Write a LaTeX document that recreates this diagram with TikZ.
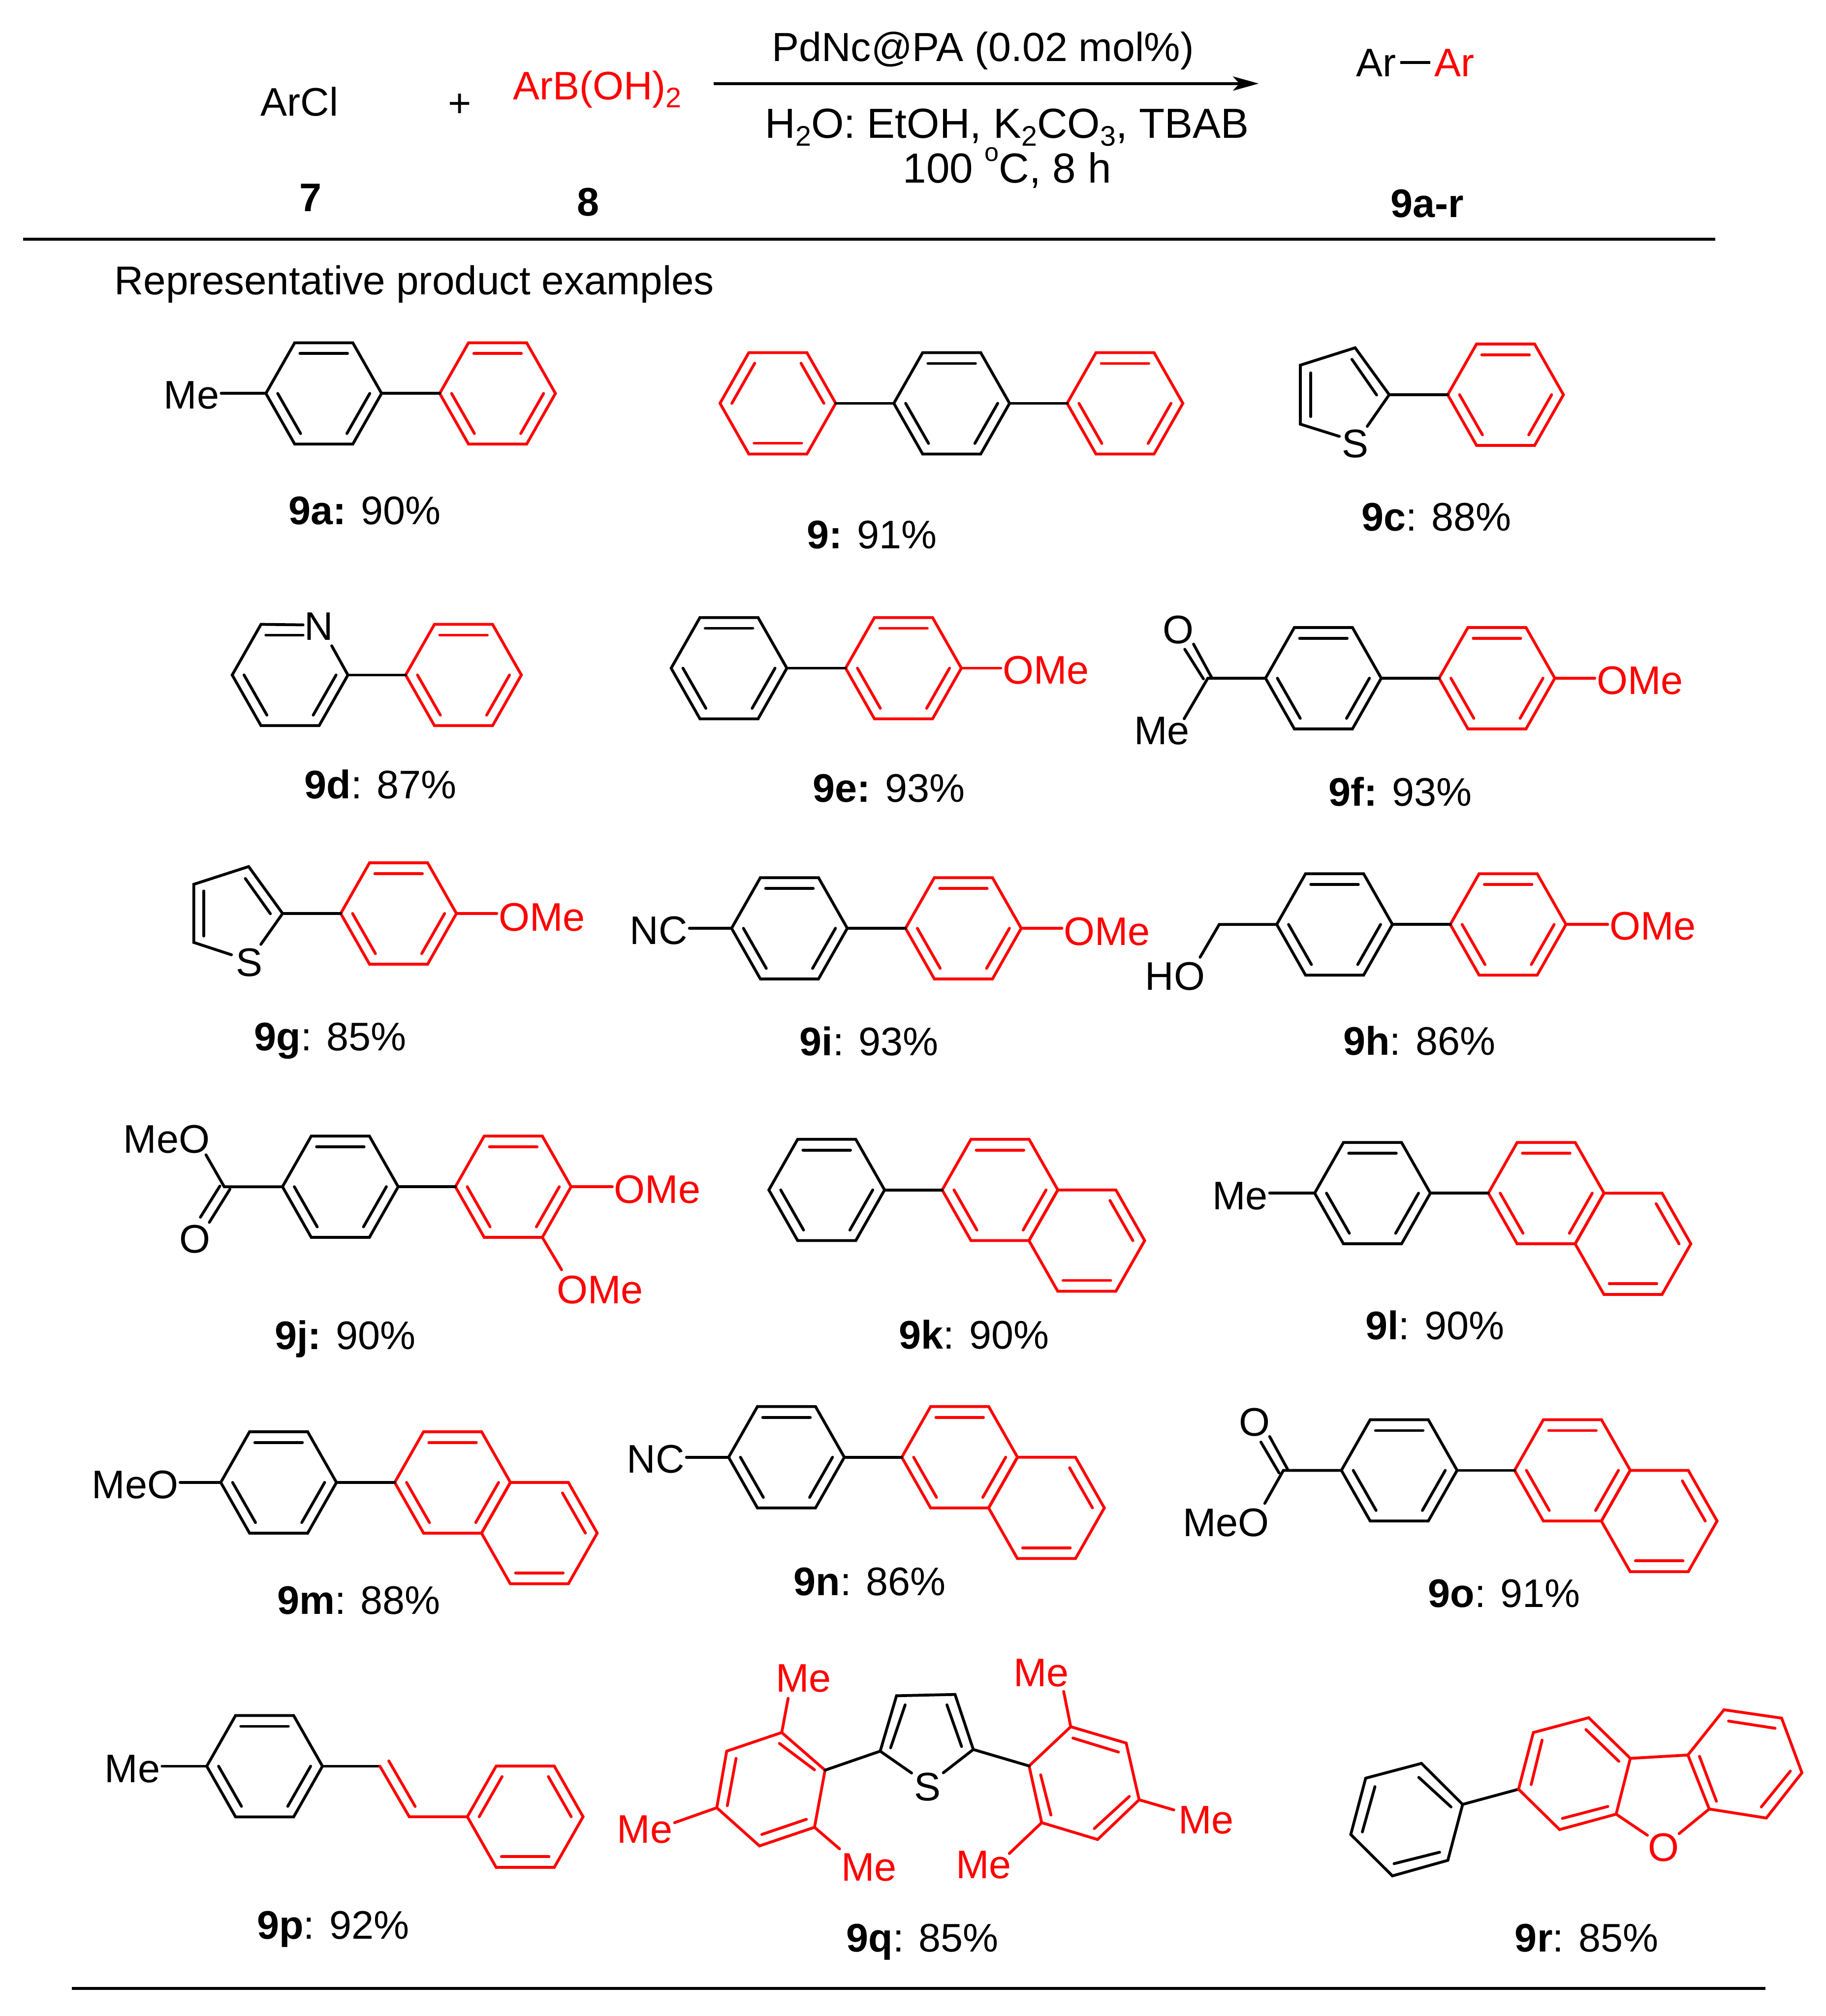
\documentclass[tikz,border=0pt]{standalone}
\usepackage{fontspec}
\setmainfont{Liberation Sans}
\usetikzlibrary{arrows.meta}
\newcommand{\subs}[1]{\raisebox{-.19em}{\fontsize{22}{22}\selectfont #1}}
\newcommand{\hexpts}[3]{\begin{scope}[shift={(#2,#3)}]
 \coordinate (#1-C) at (0,0);
 \coordinate (#1-W) at (-45,0);
 \coordinate (#1-NW) at (-22.6,-39.4);
 \coordinate (#1-NE) at (22.6,-39.4);
 \coordinate (#1-E) at (45,0);
 \coordinate (#1-SE) at (22.6,39.4);
 \coordinate (#1-SW) at (-22.6,39.4);
 \end{scope}}
\newcommand{\hexline}[2]{\draw[#2] (#1-W)--(#1-NW)--(#1-NE)--(#1-E)--(#1-SE)--(#1-SW)--cycle;}
\newcommand{\dT}[2]{\draw[#2,shift={(#1-C)}] (-18.5,-31)--(18.5,-31);}
\newcommand{\dB}[2]{\draw[#2,shift={(#1-C)}] (-18.5,31)--(18.5,31);}
\newcommand{\dLL}[2]{\draw[#2,shift={(#1-C)}] (-35.8,0)--(-18,31.2);}
\newcommand{\dLR}[2]{\draw[#2,shift={(#1-C)}] (35.8,0)--(18,31.2);}
\newcommand{\dUL}[2]{\draw[#2,shift={(#1-C)}] (-35.8,0)--(-18,-31.2);}
\newcommand{\dUR}[2]{\draw[#2,shift={(#1-C)}] (35.8,0)--(18,-31.2);}
% ring with top, lower-left, lower-right double bonds
\newcommand{\ringA}[4]{\hexpts{#1}{#2}{#3}\hexline{#1}{#4}\dT{#1}{#4}\dLL{#1}{#4}\dLR{#1}{#4}}
% ring with upper-left, upper-right, bottom double bonds
\newcommand{\ringB}[4]{\hexpts{#1}{#2}{#3}\hexline{#1}{#4}\dB{#1}{#4}\dUL{#1}{#4}\dUR{#1}{#4}}
% red naphth-2-yl: first ring at the given centre, second ring fused down-right
\newcommand{\naph}[3]{\ringA{#1}{#2}{#3}{rd}
 \begin{scope}[shift={(#2,#3)}]\hexpts{#1b}{67.5}{39.4}\end{scope}
 \hexline{#1b}{rd}\dB{#1b}{rd}\dUR{#1b}{rd}}
\tikzset{
 rd/.style={draw=red},
 bk/.style={draw=black},
 lab/.style={inner sep=0pt,outer sep=1.5pt,text height=22pt,text depth=0pt,font=\fontsize{31}{36}\selectfont},
 labr/.style={lab,text=red},
 labbig/.style={lab,text height=23.4pt,font=\fontsize{32.7}{38}\selectfont},
 labbf/.style={lab,font=\fontsize{31}{36}\selectfont\bfseries},
 rule/.style={draw=black,line width=2.3pt,line cap=butt}
}
\begin{document}
\begin{tikzpicture}[x=1pt,y=-1pt,line width=2.2pt,line join=miter,line cap=round]
\useasboundingbox (0,0) rectangle (1420,1568);
% ---------- reaction scheme ----------
\node[lab] (arcl) at (233,79) {ArCl};
\node[lab] (plus) at (357.7,80) {+};
\node[labr] (boronic) at (464.5,66.7) {ArB(OH)\subs{2}};
\node[lab,font=\fontsize{31.6}{36}\selectfont] (cat) at (764.5,36.5) {PdNc@PA (0.02 mol\%)};
\node[labbig] (cond) at (783.3,95.7) {H\subs{2}O: EtOH, K\subs{2}CO\subs{3}, TBAB};
\node[labbig] (temp) at (783.3,130.5) {100 \raisebox{.52em}{\fontsize{20}{20}\selectfont o}C, 8 h};
\node[lab] (ar1) at (1070.5,48.5) {Ar};
\node[labr] (ar2) at (1131,48.5) {Ar};
\draw[bk,line width=2.4pt,line cap=butt,shorten <=1.5pt,shorten >=1.5pt] (ar1.east)--(ar2.west);
\node[labbf] (n7) at (241.5,153.5) {7};
\node[labbf] (n8) at (457.3,157) {8};
\node[labbf] (n9) at (1110,158) {9a-r};
\coordinate (arrowA) at (555,65);
\coordinate (arrowB) at (979,65);
\draw[bk,line cap=butt,-{Stealth[length=20pt,width=11pt,inset=5pt]}] (arrowA)--(arrowB);
\coordinate (ruleA) at (18,186);
\coordinate (ruleB) at (1334,186);
\draw[rule] (ruleA)--(ruleB);
\coordinate (ruleC) at (56,1546.5);
\coordinate (ruleD) at (1373,1546.5);
\draw[rule] (ruleC)--(ruleD);
\node[lab,font=\fontsize{31.3}{36}\selectfont] (repr) at (322.3,218) {Representative product examples};
% ---------- 9a ----------
\ringA{a1}{251.8}{306}{bk}
\ringA{a2}{387}{306}{rd}
\draw[bk] (a1-E)--(a2-W);
\node[lab] (aMe) at (149,307) {Me};
\draw[bk] (a1-W)--(a1-W -| aMe.east);
\node[lab] (ta) at (283.5,397) {\textbf{9a:} 90\%};
% ---------- 9 ----------
\ringB{b1}{605}{313.7}{rd}
\ringA{b2}{740.2}{313.7}{bk}
\ringA{b3}{875}{313.7}{rd}
\draw[bk] (b1-E)--(b2-W);
\draw[bk] (b2-E)--(b3-W);
\node[lab] (tb) at (678,415.5) {\textbf{9:} 91\%};
% ---------- 9c ----------
\ringA{c2}{1171}{307}{rd}
\coordinate (c-C2) at (1080.5,307);
\coordinate (c-C3) at (1054,270.5);
\coordinate (c-C4) at (1011.4,284);
\coordinate (c-C5) at (1011.4,329.9);
\node[lab] (cS) at (1054,345) {S};
\coordinate (c-S1) at (1063.4,331.6);
\coordinate (c-S2) at (1041.7,339.4);
\draw[bk] (c-S1)--(c-C2)--(c-C3)--(c-C4)--(c-C5)--(c-S2);
\draw[bk] (1070.7,307.2)--(1051.5,279.5);
\draw[bk] (1019.5,290)--(1019.5,324);
\draw[bk] (c-C2)--(c2-W);
\node[lab] (tc) at (1117.3,402) {\textbf{9c}: 88\%};
% ---------- 9d ----------
\hexpts{d1}{225.6}{525}
\node[lab] (dN) at (248,487) {N};
\coordinate (d-N1) at (235.7,486);
\coordinate (d-N2) at (258,502.3);
\draw[bk] (d-N1)--(d1-NW)--(d1-W)--(d1-SW)--(d1-SE)--(d1-E)--(d-N2);
\draw[bk] (206.8,494)--(235.7,494);
\dLL{d1}{bk}\dLR{d1}{bk}
\ringA{d2}{360.5}{525}{rd}
\draw[bk] (d1-E)--(d2-W);
\node[lab] (td) at (296,610) {\textbf{9d}: 87\%};
% ---------- 9e ----------
\ringA{e1}{567}{519.7}{bk}
\ringA{e2}{702.7}{519.7}{rd}
\draw[bk] (e1-E)--(e2-W);
\node[labr] (eO) at (813.5,521) {OMe};
\draw[rd] (e2-E)--(e2-E -| eO.west);
\node[lab] (te) at (691.3,612.8) {\textbf{9e:} 93\%};
% ---------- 9f ----------
\ringA{f1}{1029.3}{527.5}{bk}
\ringA{f2}{1164.3}{527.5}{rd}
\draw[bk] (f1-E)--(f2-W);
\node[labr] (fO) at (1275.5,529) {OMe};
\draw[rd] (f2-E)--(f2-E -| fO.west);
\coordinate (f-C) at (939.4,527.5);
\draw[bk] (f1-W)--(f-C);
\node[lab] (fOx) at (916.4,489.7) {O};
\node[lab] (fMe) at (903.6,568) {Me};
\coordinate (f-M) at (921,559);
\draw[bk] (f-C)--(f-M);
\draw[bk] (942.4,527)--(928.3,501);
\draw[bk] (936,528)--(921.5,505);
\node[lab] (tf) at (1089,616) {\textbf{9f:} 93\%};
% ---------- 9g ----------
\ringA{g2}{310}{710.5}{rd}
\coordinate (g-C2) at (219.8,710.5);
\coordinate (g-C3) at (193.4,674);
\coordinate (g-C4) at (150.7,687.8);
\coordinate (g-C5) at (150.7,733);
\node[lab] (gS) at (193.9,748.4) {S};
\coordinate (g-S1) at (202.9,734.5);
\coordinate (g-S2) at (180,742.6);
\draw[bk] (g-S1)--(g-C2)--(g-C3)--(g-C4)--(g-C5)--(g-S2);
\draw[bk] (210.3,710.7)--(190.8,683.3);
\draw[bk] (158.5,693)--(158.5,728);
\draw[bk] (g-C2)--(g2-W);
\node[labr] (gO) at (421.5,713) {OMe};
\draw[rd] (g2-E)--(g2-E -| gO.west);
\node[lab] (tg) at (257,806) {\textbf{9g}: 85\%};
% ---------- 9i ----------
\ringA{i1}{614}{722}{bk}
\ringA{i2}{749.3}{722}{rd}
\draw[bk] (i1-E)--(i2-W);
\node[lab] (iNC) at (512.3,723.4) {NC};
\draw[bk] (i1-W)--(i1-W -| iNC.east);
\node[labr] (iO) at (861,724) {OMe};
\draw[rd] (i2-E)--(i2-E -| iO.west);
\node[lab] (ti) at (676,810) {\textbf{9i}: 93\%};
% ---------- 9h ----------
\ringA{h1}{1038}{719}{bk}
\ringA{h2}{1173}{719}{rd}
\draw[bk] (h1-E)--(h2-W);
\node[labr] (hO) at (1285.5,720) {OMe};
\draw[rd] (h2-E)--(h2-E -| hO.west);
\coordinate (h-C) at (948.3,719);
\coordinate (h-O) at (933.4,744.5);
\draw[bk] (h1-W)--(h-C)--(h-O);
\node[lab] (hHO) at (914,759) {HO};
\node[lab] (th) at (1104,809.5) {\textbf{9h}: 86\%};
% ---------- 9j ----------
\ringA{j1}{264.7}{923}{bk}
\ringA{j2}{399.2}{923}{rd}
\draw[bk] (j1-E)--(j2-W);
\node[labr] (jO1) at (511.3,924.6) {OMe};
\draw[rd] (j2-E)--(j2-E -| jO1.west);
\node[labr] (jO2) at (466.6,1003) {OMe};
\coordinate (j-O2) at (436.8,987.6);
\draw[rd] (j2-SE)--(j-O2);
\coordinate (j-C) at (174.4,923);
\coordinate (j-O) at (160.2,898.2);
\draw[bk] (j1-W)--(j-C)--(j-O);
\node[lab] (jMeO) at (129.6,885.6) {MeO};
\draw[bk] (178.8,925)--(162.8,950.7);
\draw[bk] (171,922.5)--(155.9,946.7);
\node[lab] (jOx) at (151.6,963.4) {O};
\node[lab] (tj) at (268.5,1038.5) {\textbf{9j:} 90\%};
% ---------- 9k ----------
\ringA{k1}{643}{925.5}{bk}
\naph{k2}{777.8}{925.5}
\draw[bk] (k1-E)--(k2-W);
\node[lab] (tk) at (757.5,1038) {\textbf{9k}: 90\%};
% ---------- 9l ----------
\ringA{l1}{1067.5}{928}{bk}
\naph{l2}{1202.6}{928}
\draw[bk] (l1-E)--(l2-W);
\node[lab] (lMe) at (964.5,929.9) {Me};
\draw[bk] (l1-W)--(l1-W -| lMe.east);
\node[lab] (tl) at (1116,1031) {\textbf{9l}: 90\%};
% ---------- 9m ----------
\ringA{m1}{216.7}{1153}{bk}
\naph{m2}{352}{1153}
\draw[bk] (m1-E)--(m2-W);
\node[lab] (mMeO) at (105,1154.5) {MeO};
\draw[bk] (m1-W)--(m1-W -| mMeO.east);
\node[lab] (tm) at (279,1244.5) {\textbf{9m}: 88\%};
% ---------- 9n ----------
\ringA{n1}{611.7}{1133.4}{bk}
\naph{n2}{746.4}{1133.4}
\draw[bk] (n1-E)--(n2-W);
\node[lab] (nNC) at (510,1134.7) {NC};
\draw[bk] (n1-W)--(n1-W -| nNC.east);
\node[lab] (tn) at (676.5,1230) {\textbf{9n}: 86\%};
% ---------- 9o ----------
\ringA{o1}{1088.3}{1143.6}{bk}
\naph{o2}{1223}{1143.6}
\draw[bk] (o1-E)--(o2-W);
\coordinate (o-C) at (998.2,1143.6);
\coordinate (o-O) at (983.7,1169.3);
\draw[bk] (o1-W)--(o-C)--(o-O);
\node[lab] (oOx) at (975.6,1106) {O};
\node[lab] (oMeO) at (953.6,1184) {MeO};
\draw[bk] (1001.6,1143)--(987.5,1117.3);
\draw[bk] (994.8,1145.6)--(980.7,1121.6);
\node[lab] (to) at (1170,1239) {\textbf{9o}: 91\%};
% ---------- 9p ----------
\ringA{p1}{205.8}{1373.7}{bk}
\ringB{p2}{408.5}{1413}{rd}
\coordinate (p-V1) at (295.5,1373.7);
\coordinate (p-V2) at (318.3,1413);
\draw[bk] (p1-E)--(p-V1);
\draw[rd] (p-V1)--(p-V2)--(p2-W);
\draw[rd] (302.4,1369.6)--(322.9,1405);
\node[lab] (pMe) at (103,1375.5) {Me};
\draw[bk] (p1-W)--(p1-W -| pMe.east);
\node[lab] (tp) at (259,1497) {\textbf{9p}: 92\%};
% ---------- 9q ----------
\coordinate (q-C2) at (684.6,1362);
\coordinate (q-C3) at (697.3,1318.9);
\coordinate (q-C4) at (742.8,1317.9);
\coordinate (q-C5) at (757,1360.7);
\node[lab] (qS) at (721.4,1389.6) {S};
\coordinate (q-S1) at (709,1379);
\coordinate (q-S2) at (733.7,1378.8);
\draw[bk] (q-S1)--(q-C2)--(q-C3)--(q-C4)--(q-C5)--(q-S2);
\draw[bk] (692.7,1359.4)--(704,1326);
\draw[bk] (747.9,1358.4)--(736.5,1326);
\coordinate (qa) at (641.7,1376.8);
\coordinate (qb) at (608,1347.5);
\coordinate (qc) at (565.2,1362);
\coordinate (qd) at (557.5,1406);
\coordinate (qe) at (590.7,1435.7);
\coordinate (qf) at (633.5,1421.2);
\draw[rd] (qa)--(qb)--(qc)--(qd)--(qe)--(qf)--cycle;
\draw[rd] (633.5,1376.5)--(606.2,1356);
\draw[rd] (572.5,1367.6)--(565.7,1404.4);
\draw[rd] (592.5,1426.8)--(627.2,1415);
\draw[bk] (qa)--(q-C2);
\node[labr] (qMe1) at (624.9,1305) {Me};
\coordinate (q-m1) at (613,1320.9);
\draw[rd] (qb)--(q-m1);
\node[labr] (qMe2) at (501.4,1422.5) {Me};
\coordinate (q-m2) at (524.7,1417.6);
\draw[rd] (qd)--(q-m2);
\node[labr] (qMe3) at (675.9,1452) {Me};
\coordinate (q-m3) at (653,1438);
\draw[rd] (qf)--(q-m3);
\coordinate (qA) at (800.4,1373.5);
\coordinate (qB) at (832.8,1343);
\coordinate (qCc) at (875.9,1355.7);
\coordinate (qD) at (886,1399.8);
\coordinate (qE) at (853.7,1430.7);
\coordinate (qF) at (810.2,1417.6);
\draw[rd] (qA)--(qB)--(qCc)--(qD)--(qE)--(qF)--cycle;
\draw[rd] (834.5,1351.8)--(869.9,1362.7);
\draw[rd] (809.4,1380.4)--(817.4,1411.7);
\draw[rd] (878.4,1397.2)--(851.1,1422.2);
\draw[bk] (q-C5)--(qA);
\node[labr] (qMe4) at (809.8,1300.8) {Me};
\coordinate (q-m4) at (827.3,1315.6);
\draw[rd] (qB)--(q-m4);
\node[labr] (qMe5) at (938.1,1415.3) {Me};
\coordinate (q-m5) at (913,1407.7);
\draw[rd] (qD)--(q-m5);
\node[labr] (qMe6) at (765,1450) {Me};
\coordinate (q-m6) at (785,1441.6);
\draw[rd] (qF)--(q-m6);
\node[lab] (tq) at (717.5,1507) {\textbf{9q}: 85\%};
% ---------- 9r ----------
\coordinate (r1) at (1137.6,1403.4);
\coordinate (r2) at (1105.6,1371.5);
\coordinate (r3) at (1062.2,1383);
\coordinate (r4) at (1050.6,1426.8);
\coordinate (r5) at (1083,1459);
\coordinate (r6) at (1126.1,1446.9);
\draw[bk] (r1)--(r2)--(r3)--(r4)--(r5)--(r6)--cycle;
\draw[bk] (1128.6,1405.4)--(1103.5,1382.4);
\draw[bk] (1069.4,1389.6)--(1059.6,1424.8);
\draw[bk] (1084.3,1449.5)--(1119.7,1440.6);
\coordinate (s1) at (1181.1,1391.6);
\coordinate (s2) at (1192.6,1347.5);
\coordinate (s3) at (1235.7,1336);
\coordinate (s4) at (1268,1367.6);
\coordinate (s5) at (1257,1411);
\coordinate (s6) at (1213,1423);
\draw[bk] (r1)--(s1);
\draw[rd] (s1)--(s2)--(s3)--(s4)--(s5)--(s6)--cycle;
\draw[rd] (1190.9,1388)--(1199.4,1353.4);
\draw[rd] (1233.5,1345.2)--(1259.1,1369.9);
\draw[rd] (1215.2,1414.3)--(1250.6,1405);
\coordinate (u1) at (1312.8,1365);
\coordinate (u2) at (1340.9,1329.8);
\coordinate (u3) at (1385.7,1336.3);
\coordinate (u4) at (1401.5,1378.8);
\coordinate (u5) at (1373.8,1414);
\coordinate (u6) at (1329.4,1407);
\draw[rd] (u1)--(u2)--(u3)--(u4)--(u5)--(u6)--cycle;
\draw[rd] (1321.8,1366)--(1335,1401);
\draw[rd] (1344.4,1338.6)--(1380.6,1344.2);
\draw[rd] (1392.5,1377.5)--(1369.9,1405.4);
\draw[rd] (s4)--(u1);
\node[labr] (rO) at (1294,1436.7) {O};
\coordinate (r-O1) at (1281.3,1427.4);
\coordinate (r-O2) at (1306,1426.1);
\draw[rd] (s5)--(r-O1);
\draw[rd] (u6)--(r-O2);
\node[lab] (tr) at (1234,1507) {\textbf{9r}: 85\%};
\end{tikzpicture}
\end{document}
